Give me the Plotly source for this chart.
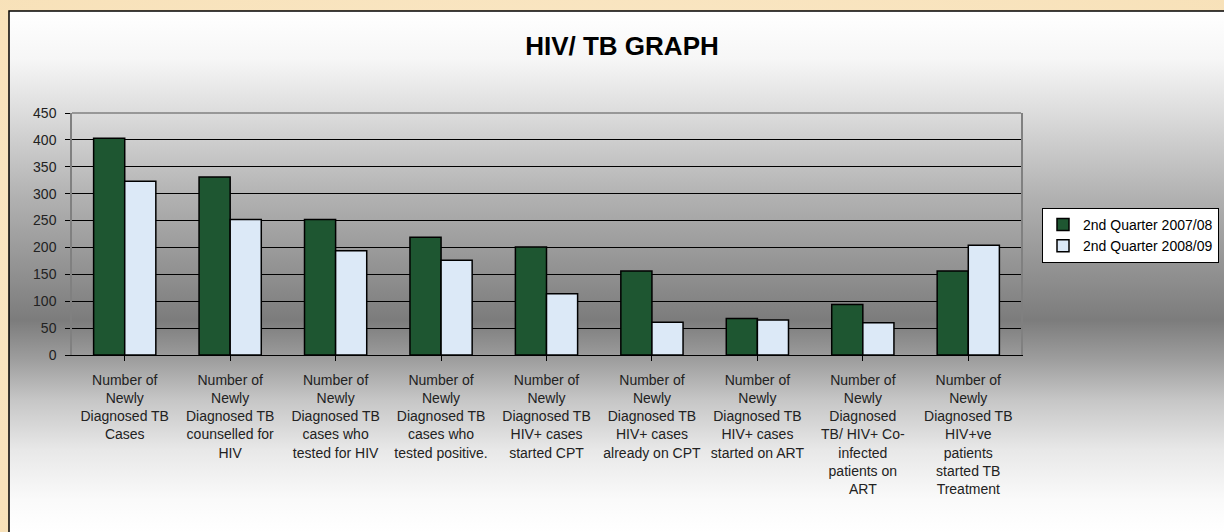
import base64
import plotly.graph_objects as go

# ---------------- data ----------------
categories = [
    "Number of<br>Newly<br>Diagnosed TB<br>Cases",
    "Number of<br>Newly<br>Diagnosed TB<br>counselled for<br>HIV",
    "Number of<br>Newly<br>Diagnosed TB<br>cases who<br>tested for HIV",
    "Number of<br>Newly<br>Diagnosed TB<br>cases who<br>tested positive.",
    "Number of<br>Newly<br>Diagnosed TB<br>HIV+ cases<br>started CPT",
    "Number of<br>Newly<br>Diagnosed TB<br>HIV+ cases<br>already on CPT",
    "Number of<br>Newly<br>Diagnosed TB<br>HIV+ cases<br>started on ART",
    "Number of<br>Newly<br>Diagnosed<br>TB/ HIV+ Co-<br>infected<br>patients on<br>ART",
    "Number of<br>Newly<br>Diagnosed TB<br>HIV+ve<br>patients<br>started TB<br>Treatment",
]
series_names = ["2nd Quarter 2007/08", "2nd Quarter 2008/09"]
q2_2007_08 = [403, 331, 252, 219, 201, 156, 68, 94, 156]
q2_2008_09 = [323, 252, 194, 176, 114, 61, 65, 60, 204]
y_ticks = [0, 50, 100, 150, 200, 250, 300, 350, 400, 450]
title_text = "HIV/ TB GRAPH"

# ---------------- styling ----------------
W, H = 1224, 532
FONT = "Liberation Sans, Arial, sans-serif"
GREEN = "#1e5631"
BLUE = "#dce9f7"

# background: beige page + gradient chart frame (decoration only)
svg = f"""<svg xmlns='http://www.w3.org/2000/svg' width='{W}' height='{H}' viewBox='0 0 {W} {H}'>
<defs>
<radialGradient id='bg' cx='0.5' cy='0.5' r='0.8'>
<stop offset='0' stop-color='#fcecd0'/>
<stop offset='1' stop-color='#f7e0b6'/>
</radialGradient>
<linearGradient id='fr' gradientUnits='userSpaceOnUse' x1='0' y1='0' x2='0' y2='{H}'>
<stop offset='{11/H:.4f}' stop-color='#ffffff'/>
<stop offset='{60/H:.4f}' stop-color='#f6f6f6'/>
<stop offset='{113/H:.4f}' stop-color='#dcdcdc'/>
<stop offset='{200/H:.4f}' stop-color='#b0b0b0'/>
<stop offset='{260/H:.4f}' stop-color='#969696'/>
<stop offset='{320/H:.4f}' stop-color='#7c7c7c'/>
<stop offset='{360/H:.4f}' stop-color='#9e9e9e'/>
<stop offset='{400/H:.4f}' stop-color='#c6c6c6'/>
<stop offset='{450/H:.4f}' stop-color='#e8e8e8'/>
<stop offset='{500/H:.4f}' stop-color='#fafafa'/>
<stop offset='1' stop-color='#ffffff'/>
</linearGradient>
</defs>
<rect x='0' y='0' width='{W}' height='{H}' fill='url(#bg)'/>
<rect x='9' y='11' width='{W + 20}' height='{H + 20}' fill='url(#fr)' stroke='#000' stroke-width='1.5'/>
</svg>"""
bg_uri = "data:image/svg+xml;base64," + base64.b64encode(svg.encode()).decode()

x_keys = list(range(len(categories)))

fig = go.Figure()
fig.add_trace(go.Bar(
    x=x_keys, y=q2_2007_08, name=series_names[0],
    marker=dict(color=GREEN, line=dict(color="#000000", width=1.5)),
))
fig.add_trace(go.Bar(
    x=x_keys, y=q2_2008_09, name=series_names[1],
    marker=dict(color=BLUE, line=dict(color="#000000", width=1.5)),
))

plot_left, plot_right, plot_top, plot_bottom = 72, 1021, 113, 355

fig.update_layout(
    width=W, height=H,
    margin=dict(l=0, r=0, t=0, b=0, autoexpand=False),
    paper_bgcolor="#f8e4bd",
    plot_bgcolor="#c0c0c0",
    barmode="group", bargap=0.41, bargroupgap=0.0,
    font=dict(family=FONT, color="#000000", size=14),
    title=dict(
        text=f"<b>{title_text}</b>", x=622 / W, y=1 - 46 / H,
        xanchor="center", yanchor="middle", xref="paper", yref="paper",
        font=dict(family=FONT, size=26, color="#000000"),
    ),
    xaxis=dict(
        domain=[plot_left / W, plot_right / W],
        tickmode="array", tickvals=x_keys, ticktext=categories,
        range=[-0.5, len(categories) - 0.5],
        showline=True, linecolor="#000000", linewidth=1,
        ticks="outside", tickson="boundaries", ticklen=5, tickcolor="#000000",
        showgrid=False, ticklabelstandoff=7,
        tickfont=dict(family=FONT, size=14, color="#222222"),
        tickangle=0, zeroline=False,
    ),
    yaxis=dict(
        domain=[1 - plot_bottom / H, 1 - plot_top / H],
        range=[0, 450], tickvals=y_ticks,
        showgrid=True, gridcolor="#000000", gridwidth=1,
        showline=True, linecolor="#808080", linewidth=1.5, mirror=True,
        ticks="outside", ticklen=5, tickcolor="#000000",
        tickfont=dict(family=FONT, size=14, color="#222222"),
        ticklabelstandoff=6, zeroline=False,
    ),
    legend=dict(
        x=1042 / W, y=1 - 208 / H, xanchor="left", yanchor="top",
        bgcolor="#ffffff", bordercolor="#000000", borderwidth=1,
        font=dict(family=FONT, size=14, color="#000000"),
        tracegroupgap=4, itemwidth=30,
    ),
    images=[dict(
        source=bg_uri, xref="paper", yref="paper", x=0, y=1,
        sizex=1, sizey=1, sizing="stretch", xanchor="left", yanchor="top",
        layer="below",
    )],
    shapes=[dict(
        type="line", xref="x domain", yref="y domain",
        x0=0, x1=1, y0=1, y1=1, line=dict(color="#808080", width=1.5),
        layer="above",
    )],
    showlegend=True,
)

fig.write_html(
    "out.html",
    config={"displayModeBar": False},
    post_script="document.body.style.margin='0';document.body.style.padding='0';",
)
